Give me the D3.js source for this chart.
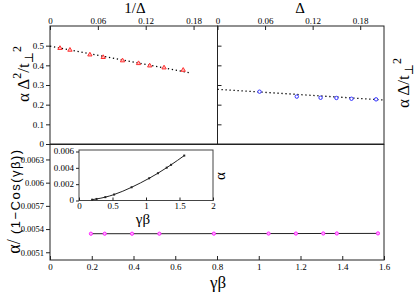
<!DOCTYPE html>
<html>
<head>
<meta charset="utf-8">
<script src="https://cdn.jsdelivr.net/npm/d3@7"></script>
<style>
  body { margin: 0; background: #fff; }
  text { font-family: "Liberation Serif", "DejaVu Serif", serif; fill: #000; }
</style>
</head>
<body>
<script>
// top left panel: alpha Delta^2 / t^2 against 1/Delta
var invDelta = [0.0125, 0.025, 0.05, 0.0667, 0.0909, 0.111, 0.125, 0.143, 0.167];
var alphaD2 = [0.487, 0.478, 0.454, 0.441, 0.424, 0.410, 0.398, 0.388, 0.376];
var fitInvX = [0, 0.175];
var fitInvY = [0.498, 0.362];

// top right panel: alpha Delta / t^2 against Delta
var delta = [0.053, 0.1, 0.13, 0.15, 0.169, 0.2];
var alphaD = [0.266, 0.241, 0.235, 0.234, 0.230, 0.227];
var fitDX = [0, 0.209];
var fitDY = [0.278, 0.224];

// bottom panel: alpha / (1 - cos(gamma beta)) against gamma beta
var gammaBeta = [0.196, 0.262, 0.393, 0.524, 0.785, 1.047, 1.178, 1.309, 1.374, 1.571];
var ratio = [0.00534, 0.00534, 0.00534, 0.00534, 0.005341, 0.005342, 0.005342, 0.005343, 0.005343, 0.005344];
// inset: alpha against gamma beta
var alphaIn = [0.0001, 0.00019, 0.00041, 0.00073, 0.00162, 0.00272, 0.00334, 0.00402, 0.00437, 0.0055];

// tick values and labels
var topTicks = [0, 0.06, 0.12, 0.18];
var topLabels = ["0", "0.06", "0.12", "0.18"];
var leftTicks = [0, 0.1, 0.2, 0.3, 0.4, 0.5];
var leftLabels = ["0", "0.1", "0.2", "0.3", "0.4", "0.5"];
var botXTicks = [0, 0.2, 0.4, 0.6, 0.8, 1, 1.2, 1.4, 1.6];
var botXLabels = ["0", "0.2", "0.4", "0.6", "0.8", "1", "1.2", "1.4", "1.6"];
var botYTicks = [0.0051, 0.0054, 0.0057, 0.006, 0.0063];
var botYLabels = ["0.0051", "0.0054", "0.0057", "0.006", "0.0063"];
var inXTicks = [0, 0.5, 1, 1.5, 2];
var inXLabels = ["0", "0.5", "1", "1.5", "2"];
var inYTicks = [0, 0.002, 0.004, 0.006];
var inYLabels = ["0", "0.002", "0.004", "0.006"];

var W = 415, H = 292;
var svg = d3.select("body").append("svg")
    .attr("width", W)
    .attr("height", H);

// scales
var xTL = d3.scaleLinear().domain([0, 0.21]).range([50, 217.5]);
var xTR = d3.scaleLinear().domain([0, 0.21]).range([217.5, 384]);
var yTop = d3.scaleLinear().domain([0, 0.6]).range([144, 26]);
var xB = d3.scaleLinear().domain([0, 1.6]).range([50, 384]);
var yB = d3.scaleLinear().domain([0.005, 0.0065]).range([260, 144]);
var xIn = d3.scaleLinear().domain([0, 2]).range([79, 213]);
var yIn = d3.scaleLinear().domain([0, 0.006]).range([200.5, 151.5]);

function frame(x0, y0, x1, y1) {
    svg.append("rect")
        .attr("x", x0).attr("y", y0)
        .attr("width", x1 - x0).attr("height", y1 - y0)
        .attr("fill", "none")
        .attr("stroke", "#222")
        .attr("stroke-width", 1);
}

// axis helper: ticks of one side, no domain path
function axis(gen, scale, pos, ticks, labels, size, inner, fs) {
    var g = svg.append("g")
        .attr("transform", pos)
        .call(gen(scale).tickValues(ticks)
            .tickFormat(function(d, i) { return labels[i]; })
            .tickSize(inner ? -size : size)
            .tickPadding(inner ? 3 : 2));
    g.select(".domain").remove();
    g.selectAll("line").attr("stroke", "#222");
    g.selectAll("text")
        .style("font-family", "'Liberation Serif', serif")
        .style("font-size", fs + "px")
        .attr("fill", "#000");
    return g;
}

// ----- frames
frame(50, 26, 217.5, 144);
frame(217.5, 26, 384, 144);
frame(50, 144.5, 384, 260);

// ----- top panels axes (labels above the frame, ticks inside)
var gt1 = axis(d3.axisTop, xTL, "translate(0,26)", topTicks, topLabels, 4, true, 9);
var gt2 = axis(d3.axisTop, xTR, "translate(0,26)", topTicks, topLabels, 4, true, 9);
gt1.selectAll("text").attr("y", -2);
gt2.selectAll("text").attr("y", -2);
axis(d3.axisLeft, yTop, "translate(50,0)", leftTicks, leftLabels, 4, false, 9);
var gr = axis(d3.axisRight, yTop, "translate(217.5,0)", leftTicks.slice(1), leftLabels.slice(1), 4, false, 9);
gr.selectAll("text").remove();

// ----- bottom panel axes
var gbx = axis(d3.axisBottom, xB, "translate(0,260)", botXTicks, botXLabels, 4, true, 9);
gbx.selectAll("text").attr("y", 4);
axis(d3.axisLeft, yB, "translate(50,0)", botYTicks, botYLabels, 4, false, 8.5);

// ----- top left data
var tlPts = invDelta.map(function(d, i) { return [d, alphaD2[i]]; });
var tlFit = fitInvX.map(function(d, i) { return [d, fitInvY[i]]; });
svg.append("path")
    .datum(tlFit)
    .attr("d", d3.line().x(function(d) { return xTL(d[0]); }).y(function(d) { return yTop(d[1]); }))
    .attr("fill", "none")
    .attr("stroke", "#000")
    .attr("stroke-width", 1.3)
    .attr("stroke-dasharray", "1.3,2.7");
svg.selectAll(".tri")
    .data(tlPts)
    .enter().append("path")
    .attr("class", "tri")
    .attr("transform", function(d) { return "translate(" + xTL(d[0]) + "," + yTop(d[1]) + ")"; })
    .attr("d", d3.symbol().type(d3.symbolTriangle).size(8))
    .attr("fill", "#ffc0c0")
    .attr("stroke", "#ff3030")
    .attr("stroke-width", 1);

// ----- top right data
var trPts = delta.map(function(d, i) { return [d, alphaD[i]]; });
var trFit = fitDX.map(function(d, i) { return [d, fitDY[i]]; });
svg.append("path")
    .datum(trFit)
    .attr("d", d3.line().x(function(d) { return xTR(d[0]); }).y(function(d) { return yTop(d[1]); }))
    .attr("fill", "none")
    .attr("stroke", "#000")
    .attr("stroke-width", 1.3)
    .attr("stroke-dasharray", "1.3,2.7");
svg.selectAll(".circ")
    .data(trPts)
    .enter().append("circle")
    .attr("class", "circ")
    .attr("cx", function(d) { return xTR(d[0]); })
    .attr("cy", function(d) { return yTop(d[1]); })
    .attr("r", 1.7)
    .attr("fill", "#fff")
    .attr("stroke", "#3030ff")
    .attr("stroke-width", 1);

// ----- bottom data
var bPts = gammaBeta.map(function(d, i) { return [d, ratio[i]]; });
svg.append("path")
    .datum(bPts)
    .attr("d", d3.line().x(function(d) { return xB(d[0]); }).y(function(d) { return yB(d[1]); }))
    .attr("fill", "none")
    .attr("stroke", "#222")
    .attr("stroke-width", 1);
svg.selectAll(".mag")
    .data(bPts)
    .enter().append("circle")
    .attr("class", "mag")
    .attr("cx", function(d) { return xB(d[0]); })
    .attr("cy", function(d) { return yB(d[1]); })
    .attr("r", 1.6)
    .attr("fill", "#ffb0ff")
    .attr("stroke", "#ff20ff")
    .attr("stroke-width", 1);

// ----- inset
svg.append("rect")
    .attr("x", 79).attr("y", 150)
    .attr("width", 134).attr("height", 50.5)
    .attr("fill", "#fff")
    .attr("stroke", "#444")
    .attr("stroke-width", 1);
var gix = axis(d3.axisBottom, xIn, "translate(0,200.5)", inXTicks, inXLabels, 3, true, 9);
gix.selectAll("text").attr("y", 2);
var giy = axis(d3.axisLeft, yIn, "translate(79,0)", inYTicks, inYLabels, 3, false, 9);
giy.selectAll("text").attr("dy", "0.25em");
var inPts = gammaBeta.map(function(d, i) { return [d, alphaIn[i]]; });
svg.append("path")
    .datum(inPts)
    .attr("d", d3.line().curve(d3.curveMonotoneX)
        .x(function(d) { return xIn(d[0]); }).y(function(d) { return yIn(d[1]); }))
    .attr("fill", "none")
    .attr("stroke", "#222")
    .attr("stroke-width", 1);
svg.selectAll(".sq")
    .data(inPts)
    .enter().append("rect")
    .attr("class", "sq")
    .attr("x", function(d) { return xIn(d[0]) - 1; })
    .attr("y", function(d) { return yIn(d[1]) - 1; })
    .attr("width", 2).attr("height", 2)
    .attr("fill", "#222");

// ----- axis titles
svg.append("text").attr("x", 135).attr("y", 13)
    .attr("text-anchor", "middle").style("font-size", "15px").text("1/Δ");
svg.append("text").attr("x", 300).attr("y", 13)
    .attr("text-anchor", "middle").style("font-size", "15px").text("Δ");
svg.append("text").attr("x", 218).attr("y", 288)
    .attr("text-anchor", "middle").style("font-size", "17px").text("γβ");
svg.append("text").attr("x", 143).attr("y", 224)
    .attr("text-anchor", "middle").style("font-size", "15px").text("γβ");
svg.append("text").attr("transform", "translate(225,176) rotate(-90)")
    .attr("text-anchor", "middle").style("font-size", "15px").text("α");

// left top title: alpha Delta^2 / t_perp^2
var tl = svg.append("text")
    .attr("transform", "translate(29,74) rotate(-90)")
    .attr("text-anchor", "middle")
    .style("font-size", "17px");
tl.append("tspan").text("α Δ");
tl.append("tspan").attr("dy", -8).style("font-size", "12px").text("2");
tl.append("tspan").attr("dy", 8).text("/t");
tl.append("tspan").attr("dy", 4).style("font-size", "12px").text("⊥");
tl.append("tspan").attr("dy", -12).style("font-size", "12px").text("2");

// right top title: alpha Delta / t_perp^2
var tr = svg.append("text")
    .attr("transform", "translate(409,83) rotate(-90)")
    .attr("text-anchor", "middle")
    .style("font-size", "17px");
tr.append("tspan").text("α Δ/t");
tr.append("tspan").attr("dy", 4).style("font-size", "12px").text("⊥");
tr.append("tspan").attr("dy", -12).style("font-size", "12px").text("2");

// bottom title
var bl = svg.append("text")
    .attr("transform", "translate(20,201) rotate(-90)")
    .attr("text-anchor", "middle");
bl.append("tspan").style("font-size", "18px").text("α/");
bl.append("tspan")
    .style("font-family", "'Liberation Sans', sans-serif")
    .style("font-size", "13px")
    .style("letter-spacing", "1.5px")
    .text(" (1−Cos(γβ))");
</script>
</body>
</html>
